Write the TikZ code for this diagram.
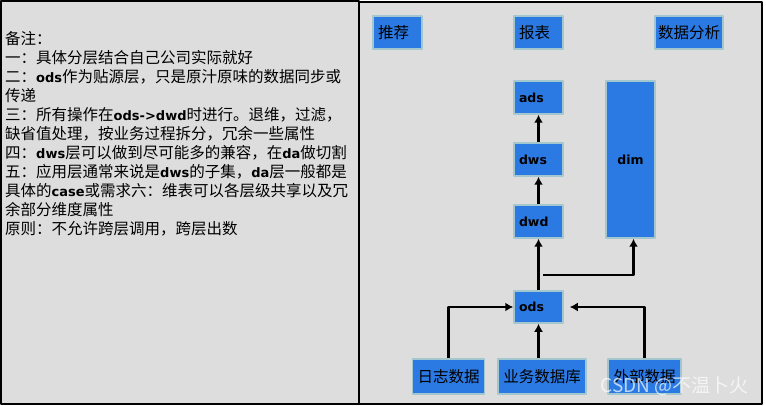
\documentclass[tikz,border=0pt]{standalone}
\usepackage{fontspec}
\setmainfont{Noto Sans CJK SC}
\newfontfamily\latfont{DejaVu Sans}
\usetikzlibrary{arrows.meta}
\definecolor{panelgray}{HTML}{DDDDDD}
\definecolor{layerblue}{HTML}{2B79E3}
\definecolor{layeredge}{HTML}{A3C7CF}
\newcommand{\en}[1]{{\latfont\bfseries\fontsize{13}{15}\selectfont #1}}

\begin{document}
\begin{tikzpicture}[x=1pt, y=-1pt, line join=round,
    panel/.style={fill=panelgray, draw=black, line width=1.8pt},
    layer/.style={fill=layerblue, draw=layeredge, line width=1.5pt,
        inner ysep=0pt, inner xsep=5pt, minimum height=33pt,
        font=\fontsize{15.5}{18}\selectfont},
    lefttext/.style={text width=39pt, align=left},
    lat/.style={font=\latfont\bfseries\fontsize{12.5}{14}\selectfont},
    arr/.style={-{Latex[length=8pt,width=9pt]}, line width=2.2pt}]

    \useasboundingbox (0,0) rectangle (766,406);
    \fill[white] (0,0) rectangle (766,406);

    % two panels: notes on the left, layers on the right
    \draw[panel] (1,1) rectangle (359,404);
    \draw[panel] (359,2) rectangle (762,404);

    % notes, one node per line
    \foreach \txt [count=\i] in {
        {备注：},
        {一：具体分层结合自己公司实际就好},
        {二：\en{ods}作为贴源层，只是原汁原味的数据同步或},
        {传递},
        {三：所有操作在\en{ods->dwd}时进行。退维，过滤，},
        {缺省值处理，按业务过程拆分，冗余一些属性},
        {四：\en{dws}层可以做到尽可能多的兼容，在\en{da}做切割},
        {五：应用层通常来说是\en{dws}的子集，\en{da}层一般都是},
        {具体的\en{case}或需求六：维表可以各层级共享以及冗},
        {余部分维度属性},
        {原则：不允许跨层调用，跨层出数}}
        \node[anchor=base west, inner sep=0pt, font=\fontsize{15.5}{18}\selectfont]
            (note\i) at (5, 45+19*\i-19) {\txt};

    % application layer
    \node[layer, lefttext] (rec) at (397.5,32.5) {推荐};
    \node[layer, lefttext] (rpt) at (538.5,32.5) {报表};
    \node[layer, text width=62pt, inner xsep=3pt, align=left] (ana) at (689,32.5) {数据分析};

    % warehouse layers
    \node[layer, lefttext, lat] (ads) at (538.5,97.5) {ads};
    \node[layer, lefttext, lat] (dws) at (538.5,159.5) {dws};
    \node[layer, lefttext, lat] (dwd) at (538.5,221.5) {dwd};
    \node[layer, lefttext, lat, minimum height=32pt] (ods) at (538.5,307) {ods};
    \node[layer, lat, minimum width=49pt, minimum height=157pt] (dim) at (630.5,159.5) {dim};

    % sources
    \node[layer, minimum width=71pt, minimum height=35pt] (log) at (448.5,376.5) {日志数据};
    \node[layer, minimum width=88pt, minimum height=35pt] (biz) at (542,376.5) {业务数据库};
    \node[layer, minimum width=73pt, minimum height=35pt] (ext) at (644.5,376.5) {外部数据};

    \draw[arr] (dws) -- (ads);
    \draw[arr] (dwd) -- (dws);
    \draw[arr] (ods) -- (dwd);
    \coordinate (fork) at (543,275);
    \draw[arr] (fork) -| ([xshift=3pt]dim.south);
    \draw[arr] (log.north) |- (ods.west);
    \draw[arr] (ods.south |- biz.north) -- (ods.south);
    \draw[arr, shorten >=6pt] (ext.north) |- (ods.east);

    \node[font=\fontsize{19}{21}\selectfont, text=white, opacity=0.7] (mark) at (674.5,386) {CSDN @不温卜火};

\end{tikzpicture}
\end{document}
